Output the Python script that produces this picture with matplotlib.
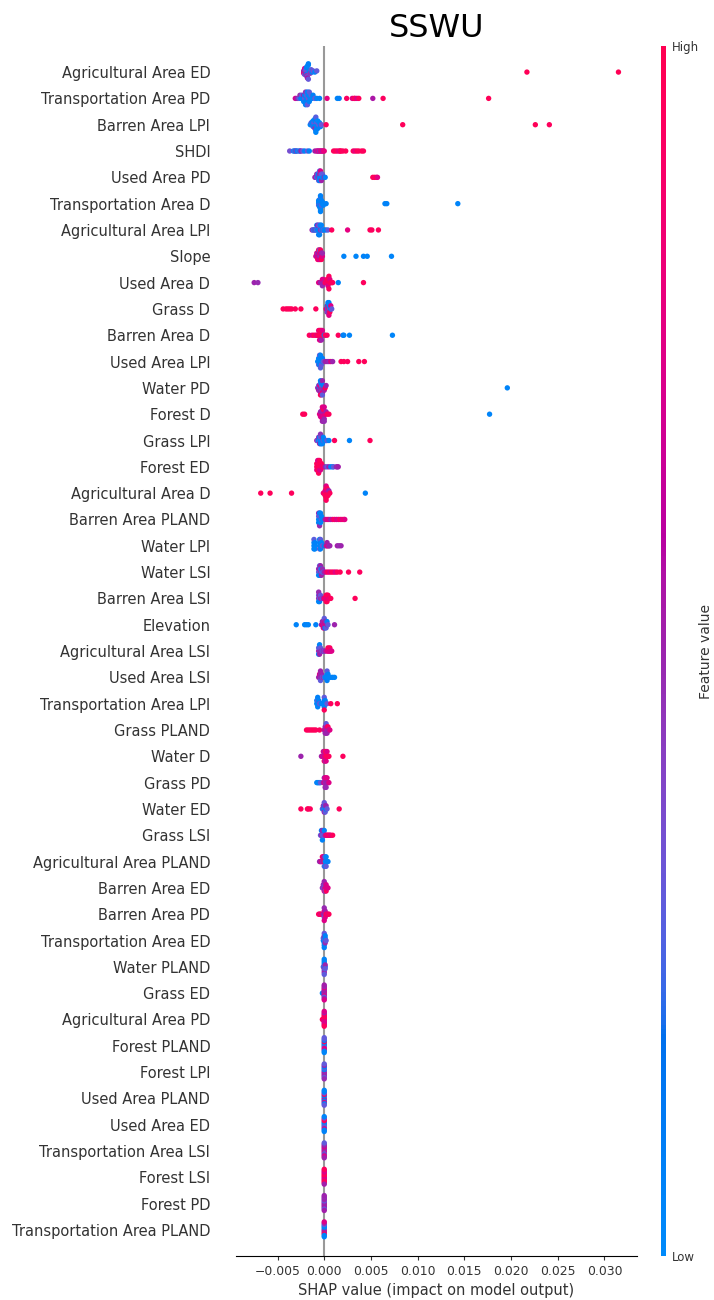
import numpy as np
import matplotlib
matplotlib.use("Agg")
import matplotlib.pyplot as plt
from matplotlib.colors import LinearSegmentedColormap, Normalize
from matplotlib.cm import ScalarMappable

# Each feature: list of (SHAP value, normalised feature value) per sample
agri_ed = [(-0.0022, .74), (-0.0022, .50), (-0.0022, .78), (-0.0021, .46), (-0.0021, .30), (-0.0021, .70),
           (-0.0020, .28), (-0.0020, .06), (-0.0020, .52), (-0.0020, .33), (-0.0019, .04), (-0.0019, .26),
           (-0.0019, .48), (-0.0019, .08), (-0.0018, .30), (-0.0018, .05), (-0.0018, .55), (-0.0017, .03),
           (-0.0017, .31), (-0.0017, .07), (-0.0016, .27), (-0.0016, .05), (-0.0015, .45), (-0.0014, .29),
           (-0.0013, .06), (-0.0012, .32), (-0.0010, .04), (-0.0008, .30), (0.0217, .97), (0.0315, .98)]
trans_pd = [(-0.0031, .70), (-0.0029, .50), (-0.0027, .30), (-0.0026, .48), (-0.0025, .05), (-0.0024, .28),
            (-0.0023, .06), (-0.0022, .52), (-0.0022, .04), (-0.0021, .30), (-0.0021, .06), (-0.0020, .07),
            (-0.0020, .46), (-0.0020, .05), (-0.0019, .05), (-0.0019, .26), (-0.0019, .08), (-0.0018, .03),
            (-0.0018, .30), (-0.0017, .33), (-0.0017, .05), (-0.0016, .06), (-0.0016, .27), (-0.0015, .05),
            (-0.0014, .28), (-0.0013, .04), (-0.0012, .08), (-0.0010, .30), (-0.0008, .05), (-0.0005, .06),
            (0.0003, .78), (0.0014, .05), (0.0016, .07), (0.0024, .92), (0.0030, .75), (0.0032, .95),
            (0.0033, .93), (0.0035, .72), (0.0037, .96), (0.0052, .55), (0.0063, .94), (0.0176, .97)]
barren_lpi = [(-0.0015, .05), (-0.0014, .30), (-0.0013, .04), (-0.0013, .07), (-0.0012, .28), (-0.0012, .05),
              (-0.0011, .03), (-0.0011, .31), (-0.0011, .06), (-0.0010, .04), (-0.0010, .48), (-0.0010, .08),
              (-0.0009, .05), (-0.0009, .27), (-0.0009, .04), (-0.0008, .06), (-0.0008, .30), (-0.0008, .05),
              (-0.0007, .03), (-0.0007, .07), (-0.0006, .29), (-0.0005, .05), (-0.0004, .06), (-0.0003, .32),
              (0.0002, .95), (0.0084, .96), (0.0226, .97), (0.0241, .95)]
shdi = [(-0.0037, .35), (-0.0033, .05), (-0.0032, .30), (-0.0031, .06), (-0.0030, .48), (-0.0029, .04),
        (-0.0027, .28), (-0.0026, .07), (-0.0025, .50), (-0.0023, .30), (-0.0021, .05), (-0.0018, .32),
        (-0.0016, .06), (-0.0010, .50), (-0.0008, .74), (-0.0007, .52), (-0.0006, .76), (-0.0005, .48),
        (-0.0004, .72), (-0.0003, .78), (-0.0002, .55), (-0.0001, .75), (0.0000, .80), (0.0010, .95),
        (0.0012, .96), (0.0014, .93), (0.0016, .74), (0.0017, .95), (0.0018, .97), (0.0020, .94),
        (0.0023, .96), (0.0031, .95), (0.0033, .78), (0.0035, .97), (0.0037, .94), (0.0040, .96), (0.0042, .95)]
used_pd = [(-0.0010, .50), (-0.0008, .30), (-0.0008, .52), (-0.0007, .05), (-0.0007, .28), (-0.0006, .48),
           (-0.0006, .06), (-0.0006, .32), (-0.0005, .04), (-0.0005, .50), (-0.0005, .07), (-0.0005, .27),
           (-0.0004, .05), (-0.0004, .46), (-0.0004, .06), (-0.0004, .74), (-0.0003, .05), (-0.0003, .30),
           (-0.0003, .52), (-0.0002, .04), (-0.0002, .29), (-0.0001, .06), (0.0000, .50), (0.0001, .05),
           (0.0052, .96), (0.0054, .95), (0.0056, .97), (0.0057, .76)]
trans_d = [(-0.0006, .05), (-0.0006, .04), (-0.0006, .25), (-0.0006, .07), (-0.0005, .03), (-0.0005, .06),
           (-0.0005, .22), (-0.0005, .05), (-0.0005, .04), (-0.0004, .06), (-0.0004, .05), (-0.0004, .24),
           (-0.0004, .03), (-0.0004, .07), (-0.0004, .05), (-0.0003, .04), (-0.0003, .06), (-0.0003, .26),
           (-0.0003, .05), (-0.0002, .04), (-0.0002, .06), (-0.0001, .05), (0.0002, .06), (0.0065, .05),
           (0.0067, .06), (0.0143, .05)]
agri_lpi = [(-0.0013, .50), (-0.0012, .30), (-0.0011, .05), (-0.0010, .48), (-0.0009, .04), (-0.0008, .28),
            (-0.0008, .06), (-0.0007, .05), (-0.0007, .52), (-0.0006, .04), (-0.0006, .31), (-0.0006, .07),
            (-0.0005, .05), (-0.0005, .27), (-0.0005, .06), (-0.0004, .46), (-0.0004, .05), (-0.0003, .30),
            (-0.0003, .04), (-0.0002, .06), (-0.0001, .29), (0.0000, .05), (0.0002, .07), (0.0004, .30),
            (0.0008, .95), (0.0025, .78), (0.0049, .96), (0.0051, .94), (0.0058, .95)]
slope = [(-0.0009, .75), (-0.0008, .50), (-0.0008, .78), (-0.0007, .72), (-0.0007, .48), (-0.0007, .95),
         (-0.0006, .74), (-0.0006, .52), (-0.0006, .76), (-0.0006, .93), (-0.0005, .50), (-0.0005, .73),
         (-0.0005, .77), (-0.0005, .30), (-0.0004, .47), (-0.0004, .75), (-0.0004, .72), (-0.0004, .94),
         (-0.0003, .74), (-0.0003, .51), (-0.0003, .96), (-0.0002, .76), (-0.0002, .49), (0.0021, .05),
         (0.0034, .04), (0.0042, .06), (0.0046, .05), (0.0072, .05)]
used_d = [(-0.0075, .50), (-0.0071, .48), (-0.0006, .74), (-0.0004, .50), (-0.0003, .52), (-0.0002, .76),
          (-0.0002, .48), (-0.0001, .50), (-0.0001, .74), (0.0000, .52), (0.0001, .95), (0.0002, .96),
          (0.0003, .76), (0.0003, .94), (0.0004, .97), (0.0004, .95), (0.0004, .75), (0.0005, .96),
          (0.0005, .94), (0.0006, .95), (0.0006, .78), (0.0007, .96), (0.0008, .95), (0.0009, .94),
          (0.0015, .05), (0.0042, .95)]
grass_d = [(-0.0044, .96), (-0.0041, .95), (-0.0039, .97), (-0.0037, .94), (-0.0035, .96), (-0.0031, .95),
           (-0.0025, .96), (-0.0009, .95), (0.0002, .75), (0.0003, .95), (0.0003, .05), (0.0003, .50),
           (0.0004, .04), (0.0004, .96), (0.0004, .30), (0.0004, .06), (0.0005, .94), (0.0005, .05),
           (0.0005, .52), (0.0005, .07), (0.0005, .76), (0.0006, .28), (0.0006, .05), (0.0006, .95),
           (0.0007, .06), (0.0007, .74), (0.0008, .30)]
barren_d = [(-0.0016, .95), (-0.0013, .76), (-0.0011, .96), (-0.0009, .94), (-0.0008, .74), (-0.0007, .97),
            (-0.0006, .95), (-0.0006, .78), (-0.0005, .96), (-0.0005, .94), (-0.0005, .72), (-0.0004, .95),
            (-0.0004, .97), (-0.0004, .75), (-0.0003, .96), (-0.0003, .94), (-0.0003, .50), (-0.0002, .95),
            (-0.0002, .76), (-0.0001, .96), (0.0000, .05), (0.0001, .95), (0.0003, .94), (0.0015, .95),
            (0.0020, .05), (0.0021, .06), (0.0027, .05), (0.0073, .04)]
used_lpi = [(-0.0007, .05), (-0.0006, .04), (-0.0006, .06), (-0.0006, .28), (-0.0005, .05), (-0.0005, .03),
            (-0.0005, .07), (-0.0005, .30), (-0.0004, .05), (-0.0004, .04), (-0.0004, .06), (-0.0004, .05),
            (-0.0004, .27), (-0.0003, .04), (-0.0003, .06), (-0.0003, .31), (-0.0002, .05), (-0.0002, .07),
            (-0.0001, .29), (0.0001, .50), (0.0003, .52), (0.0005, .48), (0.0007, .74), (0.0009, .50),
            (0.0018, .95), (0.0021, .96), (0.0025, .94), (0.0037, .95), (0.0043, .96)]
water_pd = [(-0.0007, .50), (-0.0006, .30), (-0.0006, .52), (-0.0005, .05), (-0.0005, .75), (-0.0005, .48),
            (-0.0004, .28), (-0.0004, .50), (-0.0004, .06), (-0.0004, .95), (-0.0003, .52), (-0.0003, .31),
            (-0.0003, .46), (-0.0003, .05), (-0.0002, .76), (-0.0002, .50), (-0.0002, .29), (-0.0001, .48),
            (-0.0001, .06), (0.0000, .52), (0.0001, .94), (0.0002, .50), (0.0196, .05)]
forest_d = [(-0.0023, .95), (-0.0021, .96), (-0.0005, .76), (-0.0004, .50), (-0.0004, .74), (-0.0003, .78),
            (-0.0003, .52), (-0.0003, .72), (-0.0002, .48), (-0.0002, .75), (-0.0002, .77), (-0.0002, .50),
            (-0.0001, .74), (-0.0001, .52), (-0.0001, .76), (-0.0001, .95), (0.0000, .50), (0.0000, .73),
            (0.0000, .48), (0.0001, .75), (0.0002, .52), (0.0003, .95), (0.0005, .94), (0.0177, .05)]
grass_lpi = [(-0.0008, .50), (-0.0007, .30), (-0.0006, .05), (-0.0006, .48), (-0.0005, .28), (-0.0005, .06),
             (-0.0005, .52), (-0.0004, .04), (-0.0004, .31), (-0.0004, .07), (-0.0004, .46), (-0.0003, .05),
             (-0.0003, .29), (-0.0003, .06), (-0.0002, .04), (-0.0002, .50), (-0.0002, .05), (-0.0001, .30),
             (-0.0001, .06), (0.0000, .05), (0.0001, .07), (0.0002, .04), (0.0003, .30), (0.0005, .05),
             (0.0011, .95), (0.0027, .05), (0.0049, .96)]
forest_ed = [(-0.0008, .95), (-0.0008, .97), (-0.0008, .76), (-0.0007, .94), (-0.0007, .96), (-0.0007, .95),
             (-0.0007, .74), (-0.0006, .97), (-0.0006, .94), (-0.0006, .95), (-0.0006, .78), (-0.0006, .96),
             (-0.0005, .95), (-0.0005, .93), (-0.0005, .75), (-0.0005, .96), (-0.0004, .95), (-0.0004, .97),
             (-0.0004, .73), (-0.0003, .94), (-0.0003, .96), (-0.0002, .76), (-0.0001, .95), (0.0001, .50),
             (0.0003, .30), (0.0005, .52), (0.0007, .05), (0.0009, .06), (0.0010, .30), (0.0013, .50),
             (0.0014, .48), (0.0015, .52)]
agri_d = [(-0.0068, .95), (-0.0058, .96), (-0.0035, .95), (-0.0001, .76), (0.0000, .95), (0.0001, .96),
          (0.0001, .74), (0.0001, .94), (0.0002, .95), (0.0002, .97), (0.0002, .75), (0.0002, .94),
          (0.0003, .96), (0.0003, .73), (0.0003, .95), (0.0003, .94), (0.0004, .97), (0.0004, .76),
          (0.0004, .95), (0.0005, .96), (0.0005, .50), (0.0006, .95), (0.0044, .05)]
barren_pland = [(-0.0006, .05), (-0.0006, .30), (-0.0006, .06), (-0.0006, .50), (-0.0005, .04), (-0.0005, .28),
                (-0.0005, .07), (-0.0005, .05), (-0.0005, .48), (-0.0004, .06), (-0.0004, .31), (-0.0004, .04),
                (-0.0004, .05), (-0.0003, .29), (-0.0003, .06), (-0.0002, .05), (0.0001, .52), (0.0003, .76),
                (0.0005, .74), (0.0007, .50), (0.0009, .77), (0.0011, .95), (0.0013, .75), (0.0015, .78),
                (0.0017, .96), (0.0019, .74), (0.0021, .95), (0.0022, .76)]
water_lpi = [(-0.0011, .05), (-0.0011, .04), (-0.0011, .06), (-0.0011, .28), (-0.0010, .05), (-0.0010, .07),
             (-0.0010, .04), (-0.0005, .05), (-0.0005, .06), (-0.0005, .30), (-0.0005, .04), (-0.0004, .05),
             (-0.0004, .07), (-0.0004, .06), (-0.0004, .29), (-0.0003, .05), (-0.0003, .04), (-0.0002, .31),
             (0.0000, .06), (0.0002, .50), (0.0003, .74), (0.0003, .52), (0.0004, .76), (0.0005, .48),
             (0.0006, .50), (0.0014, .52), (0.0016, .48), (0.0018, .50)]
water_lsi = [(-0.0006, .30), (-0.0006, .50), (-0.0006, .05), (-0.0005, .28), (-0.0005, .52), (-0.0005, .06),
             (-0.0005, .31), (-0.0004, .48), (-0.0004, .29), (-0.0004, .05), (-0.0004, .50), (-0.0003, .30),
             (-0.0003, .06), (-0.0003, .52), (-0.0002, .28), (-0.0002, .48), (-0.0001, .30), (0.0000, .50),
             (0.0002, .75), (0.0004, .95), (0.0006, .76), (0.0008, .96), (0.0010, .94), (0.0012, .74),
             (0.0014, .95), (0.0017, .96), (0.0026, .95), (0.0038, .94)]
barren_lsi = [(-0.0006, .50), (-0.0006, .30), (-0.0006, .05), (-0.0006, .48), (-0.0005, .28), (-0.0005, .52),
              (-0.0005, .06), (-0.0004, .50), (-0.0004, .31), (-0.0003, .48), (-0.0002, .29), (-0.0001, .50),
              (0.0000, .75), (0.0001, .95), (0.0002, .74), (0.0002, .96), (0.0002, .94), (0.0003, .76),
              (0.0003, .95), (0.0003, .97), (0.0004, .73), (0.0004, .95), (0.0005, .96), (0.0006, .75),
              (0.0007, .95), (0.0033, .96)]
elevation = [(-0.0030, .05), (-0.0021, .06), (-0.0019, .05), (-0.0017, .04), (-0.0009, .06), (-0.0003, .50),
             (-0.0002, .75), (-0.0002, .52), (-0.0001, .74), (-0.0001, .48), (-0.0001, .77), (0.0000, .50),
             (0.0000, .75), (0.0000, .52), (0.0000, .30), (0.0001, .73), (0.0001, .50), (0.0001, .05),
             (0.0002, .76), (0.0002, .48), (0.0002, .29), (0.0003, .50), (0.0003, .06), (0.0004, .30),
             (0.0011, .50)]
agri_lsi = [(-0.0006, .50), (-0.0006, .30), (-0.0006, .05), (-0.0005, .48), (-0.0005, .28), (-0.0005, .52),
            (-0.0005, .06), (-0.0004, .50), (-0.0004, .31), (-0.0003, .48), (-0.0002, .29), (-0.0001, .50),
            (0.0000, .30), (0.0001, .52), (0.0003, .75), (0.0004, .74), (0.0004, .95), (0.0005, .76),
            (0.0006, .73), (0.0006, .94), (0.0007, .75), (0.0008, .74)]
used_lsi = [(-0.0006, .50), (-0.0005, .52), (-0.0005, .74), (-0.0004, .48), (-0.0004, .50), (-0.0004, .30),
            (-0.0004, .52), (-0.0003, .49), (-0.0003, .51), (-0.0002, .29), (-0.0001, .50), (0.0000, .30),
            (0.0001, .05), (0.0002, .06), (0.0003, .04), (0.0003, .05), (0.0003, .07), (0.0003, .28),
            (0.0004, .05), (0.0004, .06), (0.0005, .05), (0.0007, .04), (0.0009, .06), (0.0011, .05)]
trans_lpi = [(-0.0008, .05), (-0.0008, .06), (-0.0007, .04), (-0.0007, .30), (-0.0007, .05), (-0.0007, .07),
             (-0.0006, .05), (-0.0006, .06), (-0.0005, .29), (-0.0003, .05), (0.0000, .04), (0.0000, .06),
             (0.0000, .05), (0.0000, .30), (0.0000, .95), (0.0001, .05), (0.0001, .07), (0.0002, .04),
             (0.0003, .31), (0.0007, .95), (0.0014, .96)]
grass_pland = [(-0.0019, .95), (-0.0017, .96), (-0.0015, .94), (-0.0013, .95), (-0.0011, .97), (-0.0009, .95),
               (-0.0005, .94), (0.0000, .50), (0.0001, .75), (0.0001, .52), (0.0001, .48), (0.0002, .74),
               (0.0002, .50), (0.0002, .52), (0.0002, .30), (0.0003, .48), (0.0003, .76), (0.0003, .50),
               (0.0004, .52), (0.0004, .95), (0.0005, .50), (0.0006, .75)]
water_d = [(-0.0025, .50), (-0.0003, .50), (-0.0002, .75), (-0.0001, .52), (-0.0001, .74), (0.0000, .76),
           (0.0000, .50), (0.0000, .95), (0.0001, .73), (0.0001, .96), (0.0001, .48), (0.0002, .95),
           (0.0002, .94), (0.0002, .75), (0.0003, .96), (0.0003, .74), (0.0004, .95), (0.0005, .94),
           (0.0020, .95)]
grass_pd = [(-0.0008, .05), (-0.0007, .06), (-0.0006, .04), (-0.0005, .05), (-0.0004, .30), (-0.0001, .50),
            (0.0000, .75), (0.0000, .52), (0.0001, .48), (0.0001, .74), (0.0001, .50), (0.0002, .52),
            (0.0002, .76), (0.0002, .48), (0.0003, .50), (0.0003, .75), (0.0004, .52), (0.0005, .74)]
water_ed = [(-0.0025, .95), (-0.0018, .96), (-0.0017, .94), (-0.0015, .95), (-0.0002, .30), (-0.0001, .05),
            (-0.0001, .50), (0.0000, .28), (0.0000, .06), (0.0000, .52), (0.0000, .31), (0.0001, .05),
            (0.0001, .48), (0.0001, .29), (0.0002, .06), (0.0002, .50), (0.0003, .30), (0.0016, .95)]
grass_lsi = [(-0.0004, .30), (-0.0003, .50), (-0.0003, .05), (-0.0002, .28), (-0.0002, .52), (-0.0002, .06),
             (-0.0001, .31), (-0.0001, .48), (0.0000, .29), (0.0000, .05), (0.0001, .50), (0.0002, .75),
             (0.0003, .95), (0.0004, .74), (0.0005, .96), (0.0006, .94), (0.0007, .76), (0.0009, .95)]
agri_pland = [(-0.0005, .50), (-0.0004, .52), (-0.0003, .75), (-0.0002, .48), (-0.0002, .95), (-0.0001, .50),
              (-0.0001, .74), (0.0000, .95), (0.0000, .52), (0.0000, .30), (0.0001, .05), (0.0001, .28),
              (0.0001, .06), (0.0002, .05), (0.0002, .04), (0.0002, .30), (0.0003, .05), (0.0004, .06)]
barren_ed = [(-0.0002, .50), (-0.0001, .30), (-0.0001, .52), (0.0000, .48), (0.0000, .29), (0.0000, .75),
             (0.0000, .50), (0.0001, .74), (0.0001, .52), (0.0001, .30), (0.0002, .76), (0.0002, .73),
             (0.0002, .95), (0.0003, .75), (0.0004, .74)]
barren_pd = [(-0.0006, .95), (-0.0005, .96), (-0.0004, .75), (-0.0003, .94), (-0.0001, .50), (0.0000, .52),
             (0.0000, .76), (0.0000, .30), (0.0000, .48), (0.0000, .74), (0.0001, .50), (0.0001, .52),
             (0.0001, .75), (0.0002, .95), (0.0003, .96), (0.0004, .74), (0.0005, .95)]
trans_ed = [(-0.0001, .05), (-0.0001, .30), (0.0000, .06), (0.0000, .28), (0.0000, .05), (0.0000, .50),
            (0.0000, .04), (0.0000, .31), (0.0000, .06), (0.0001, .29), (0.0001, .05), (0.0001, .48),
            (0.0001, .07), (0.0002, .30)]
water_pland = [(-0.0001, .30), (0.0000, .05), (0.0000, .28), (0.0000, .48), (0.0000, .06), (0.0000, .31),
               (0.0000, .04), (0.0000, .50), (0.0000, .05), (0.0000, .29), (0.0001, .06), (0.0001, .50),
               (0.0001, .30)]
grass_ed = [(-0.0002, .05), (0.0000, .50), (0.0000, .75), (0.0000, .48), (0.0000, .52), (0.0000, .74),
            (0.0000, .50), (0.0000, .30), (0.0000, .76), (0.0000, .50), (0.0000, .48), (0.0000, .73),
            (0.0000, .52)]
agri_pd = [(-0.0002, .95), (0.0000, .75), (0.0000, .95), (0.0000, .74), (0.0000, .96), (0.0000, .76),
           (0.0000, .94), (0.0000, .73), (0.0000, .95), (0.0000, .75), (0.0000, .52), (0.0000, .96),
           (0.0000, .74)]
forest_pland = [(0.0000, .05), (0.0000, .06), (0.0000, .30), (0.0000, .05), (0.0000, .75), (0.0000, .95),
                (0.0000, .74), (0.0000, .06), (0.0000, .05), (0.0000, .28), (0.0000, .04), (0.0000, .30)]
forest_lpi = [(0.0000, .50), (0.0000, .30), (0.0000, .52), (0.0000, .05), (0.0000, .48), (0.0000, .29),
              (0.0000, .50), (0.0000, .06), (0.0000, .31), (0.0000, .52), (0.0000, .48), (0.0000, .30)]
used_pland = [(0.0000, .05), (0.0000, .30), (0.0000, .75), (0.0000, .06), (0.0000, .05), (0.0000, .95),
              (0.0000, .74), (0.0000, .28), (0.0000, .05), (0.0000, .06), (0.0000, .30), (0.0000, .05)]
used_ed = [(0.0000, .05), (0.0000, .06), (0.0000, .30), (0.0000, .05), (0.0000, .28), (0.0000, .95),
           (0.0000, .75), (0.0000, .96), (0.0000, .05), (0.0000, .30), (0.0000, .06), (0.0000, .05)]
trans_lsi = [(0.0000, .50), (0.0000, .52), (0.0000, .75), (0.0000, .48), (0.0000, .30), (0.0000, .74),
             (0.0000, .50), (0.0000, .52), (0.0000, .76), (0.0000, .48), (0.0000, .50), (0.0000, .30)]
forest_lsi = [(0.0000, .75), (0.0000, .95), (0.0000, .74), (0.0000, .96), (0.0000, .76), (0.0000, .94),
              (0.0000, .95), (0.0000, .74), (0.0000, .96), (0.0000, .75), (0.0000, .52), (0.0000, .95)]
forest_pd = [(0.0000, .50), (0.0000, .48), (0.0000, .52), (0.0000, .30), (0.0000, .50), (0.0000, .48),
             (0.0000, .52), (0.0000, .50), (0.0000, .30), (0.0000, .48), (0.0000, .52), (0.0000, .50)]
trans_pland = [(0.0000, .05), (0.0000, .30), (0.0000, .75), (0.0000, .06), (0.0000, .50), (0.0000, .05),
               (0.0000, .95), (0.0000, .30), (0.0000, .06), (0.0000, .48), (0.0000, .05), (0.0000, .74)]

feature_names = [
    "Agricultural Area ED", "Transportation Area PD", "Barren Area LPI", "SHDI", "Used Area PD",
    "Transportation Area D", "Agricultural Area LPI", "Slope", "Used Area D", "Grass D",
    "Barren Area D", "Used Area LPI", "Water PD", "Forest D", "Grass LPI", "Forest ED",
    "Agricultural Area D", "Barren Area PLAND", "Water LPI", "Water LSI", "Barren Area LSI",
    "Elevation", "Agricultural Area LSI", "Used Area LSI", "Transportation Area LPI", "Grass PLAND",
    "Water D", "Grass PD", "Water ED", "Grass LSI", "Agricultural Area PLAND", "Barren Area ED",
    "Barren Area PD", "Transportation Area ED", "Water PLAND", "Grass ED", "Agricultural Area PD",
    "Forest PLAND", "Forest LPI", "Used Area PLAND", "Used Area ED", "Transportation Area LSI",
    "Forest LSI", "Forest PD", "Transportation Area PLAND",
]
feature_samples = [
    agri_ed, trans_pd, barren_lpi, shdi, used_pd, trans_d, agri_lpi, slope, used_d, grass_d,
    barren_d, used_lpi, water_pd, forest_d, grass_lpi, forest_ed, agri_d, barren_pland, water_lpi,
    water_lsi, barren_lsi, elevation, agri_lsi, used_lsi, trans_lpi, grass_pland, water_d, grass_pd,
    water_ed, grass_lsi, agri_pland, barren_ed, barren_pd, trans_ed, water_pland, grass_ed, agri_pd,
    forest_pland, forest_lpi, used_pland, used_ed, trans_lsi, forest_lsi, forest_pd, trans_pland,
]
title = "SSWU"
x_label = "SHAP value (impact on model output)"
cbar_labels = ["Low", "High"]


def red_blue_cmap(nsteps=100):
    """Blue -> purple -> red map interpolated in CIE LCh space."""
    blue_lch = (54.0, 70.0, 4.6588)
    l_mid = 40.0
    red_lch = (54.0, 90.0, 0.35470565 + 2 * np.pi)
    L = np.concatenate([np.linspace(blue_lch[0], l_mid, nsteps // 2),
                        np.linspace(l_mid, red_lch[0], nsteps // 2)])
    C = np.linspace(blue_lch[1], red_lch[1], nsteps)
    H = np.linspace(blue_lch[2], red_lch[2], nsteps)
    a, b = C * np.cos(H), C * np.sin(H)
    fy = (L + 16) / 116
    fx, fz = fy + a / 500, fy - b / 200

    def finv(t):
        return np.where(t > 6 / 29, t ** 3, 3 * (6 / 29) ** 2 * (t - 4 / 29))

    xyz = np.vstack([0.95047 * finv(fx), finv(fy), 1.08883 * finv(fz)])
    m = np.array([[3.2404542, -1.5371385, -0.4985314],
                  [-0.9692660, 1.8760108, 0.0415560],
                  [0.0556434, -0.2040259, 1.0572252]])
    rgb = np.clip(m @ xyz, 0, None)
    rgb = np.where(rgb > 0.0031308, 1.055 * rgb ** (1 / 2.4) - 0.055, 12.92 * rgb)
    rgb = np.clip(rgb, 0, 1).T
    return LinearSegmentedColormap.from_list("red_blue", list(rgb))


def swarm_offsets(values, nbins=100, row_height=0.4):
    """Stack points that fall in the same value bin, alternating up and down."""
    values = np.asarray(values, dtype=float)
    quant = np.round(nbins * (values - values.min()) / (values.max() - values.min() + 1e-8))
    order = np.argsort(quant, kind="stable")
    ys = np.zeros(len(values))
    layer, last = 0, None
    for i in order:
        if quant[i] != last:
            layer = 0
        ys[i] = np.ceil(layer / 2) * ((layer % 2) * 2 - 1)
        layer += 1
        last = quant[i]
    ys *= 0.9 * (row_height / np.max(ys + 1))
    return ys


cmap = red_blue_cmap()
axis_color = "#333333"

fig = plt.figure(figsize=(7.14, 13.0), dpi=100)
ax = fig.add_axes([0.3305, 0.0336, 0.5612, 0.9312])

n = len(feature_names)
ax.axvline(0, color="#999999", zorder=-1)
for i, samples in enumerate(feature_samples):
    pos = n - 1 - i
    vals = [s for s, _ in samples]
    fvals = [f for _, f in samples]
    ys = swarm_offsets(vals)
    ax.scatter(vals, pos + ys, c=fvals, cmap=cmap, vmin=0, vmax=1, s=15,
               linewidths=0, zorder=3, rasterized=True)

ax.set_ylim(-1, n)
ax.set_yticks(range(n))
ax.set_yticklabels(feature_names[::-1], fontsize=10.5)
ax.tick_params("y", length=0, pad=18.5)
ax.xaxis.set_ticks_position("bottom")
ax.tick_params(color=axis_color, labelcolor=axis_color)
ax.tick_params("x", labelsize=8.9, length=3)
ax.set_xticks([-0.005, 0.0, 0.005, 0.010, 0.015, 0.020, 0.025, 0.030])
for side in ("top", "right", "left"):
    ax.spines[side].set_visible(False)
ax.set_xlabel(x_label, fontsize=10.5, color=axis_color, labelpad=3)
ax.set_title(title, fontsize=23, pad=6)

# Colour bar for the feature value
cax = fig.add_axes([0.926, 0.0336, 0.007, 0.9312])
sm = ScalarMappable(norm=Normalize(0, 1), cmap=cmap)
cb = fig.colorbar(sm, cax=cax, ticks=[0, 1])
cb.set_ticklabels(cbar_labels)
cb.ax.tick_params(labelsize=8.5, length=0, pad=4, labelcolor=axis_color)
cb.outline.set_visible(False)
cb.set_label("Feature value", fontsize=10, labelpad=0, color=axis_color)

fig.savefig("out.png", dpi=100)
